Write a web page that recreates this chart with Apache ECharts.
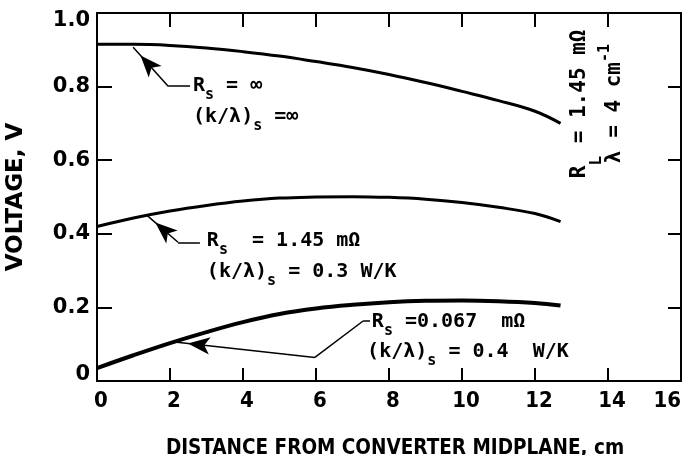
<!DOCTYPE html>
<html>
<head>
<meta charset="utf-8">
<title>Voltage vs distance from converter midplane</title>
<script src="https://cdn.jsdelivr.net/npm/echarts@6/dist/echarts.min.js"></script>
</head>
<body style="margin:0;background:#fff">
<div id="main" style="width:687px;height:455px;"></div>
<script type="text/javascript">
// distance from converter midplane, cm
var dist = [0, 1, 2, 3, 4, 5, 6, 7, 8, 9, 10, 11, 12, 12.7];
// voltage, V
var vInf = [0.915, 0.915, 0.912, 0.905, 0.895, 0.883, 0.868, 0.852, 0.833, 0.811, 0.787, 0.762, 0.733, 0.700];
var v145 = [0.420, 0.443, 0.462, 0.477, 0.489, 0.497, 0.500, 0.501, 0.499, 0.494, 0.485, 0.472, 0.455, 0.433];
var v067 = [0.035, 0.070, 0.103, 0.133, 0.160, 0.182, 0.197, 0.207, 0.214, 0.218, 0.219, 0.217, 0.212, 0.205];
var yTickLabels = ['0', '0.2', '0.4', '0.6', '0.8', '1.0'];

// leader lines (tip on the curve first), in data units
var arrowInf = [[0.99, 0.907], [1.95, 0.801], [2.55, 0.801]];
var arrow145 = [[1.37, 0.450], [2.22, 0.377], [2.82, 0.377]];
var arrow067 = [[2.19, 0.105], [5.97, 0.064], [7.29, 0.163], [7.48, 0.163]];
// label anchors (left end, middle), in data units
var labelInf = [[2.63, 0.801], [2.63, 0.717]];
var label145 = [[3.01, 0.380], [3.01, 0.296]];
var label067 = [[7.53, 0.160], [7.40, 0.078]];
var noteAnchors = [[13.23, 0.551], [14.19, 0.592]];

var mono = "'DejaVu Sans Mono', 'Liberation Mono', monospace";
var sans = "'DejaVu Sans', sans-serif";
var cond = "'DejaVu Sans Condensed', 'Liberation Sans Narrow', sans-serif";

function pairs(xs, ys) { return xs.map(function (x, i) { return [x, ys[i]]; }); }

function leader(pts) {
  var d = [];
  for (var i = 0; i < pts.length - 1; i++) {
    var a = {coord: pts[i], symbol: 'none'};
    if (i === 0) { a.symbol = 'arrow'; a.symbolSize = [13, 22]; a.symbolOffset = [0, '50%']; }
    d.push([a, {coord: pts[i + 1], symbol: 'none'}]);
  }
  return {
    silent: true, symbol: 'none', animation: false,
    label: {show: false},
    itemStyle: {color: '#000'},
    lineStyle: {color: '#000', width: 1.5, type: 'solid'},
    emphasis: {disabled: true},
    data: d
  };
}

function curve(ys, w, pts) {
  return {
    type: 'line', data: pairs(dist, ys), smooth: 0.4, symbol: 'none',
    color: '#000', lineStyle: {color: '#000', width: w},
    markLine: leader(pts)
  };
}

function frameAxis(extra, tickLen) {
  return Object.assign({
    type: 'value', min: 0,
    axisLine: {show: true, onZero: false, lineStyle: {color: '#000', width: 2}},
    axisTick: {show: true, inside: true, length: tickLen, lineStyle: {color: '#000', width: 2}},
    splitLine: {show: false}
  }, extra);
}

var yLab = {fontFamily: sans, fontWeight: 'bold', fontSize: 21, color: '#000'};
var myChart = echarts.init(document.getElementById('main'));
option = {
  animation: false,
  backgroundColor: '#fff',
  grid: {left: 97, right: 6, top: 13, bottom: 74, containLabel: false, outerBoundsMode: 'none'},
  xAxis: [
    frameAxis({
      position: 'bottom', max: 16, interval: 2,
      axisLabel: {color: '#000', fontFamily: cond, fontWeight: 'bold', fontSize: 22, margin: 9,
        padding: [0, 0, 0, 8], alignMaxLabel: 'right'},
      name: 'DISTANCE FROM CONVERTER MIDPLANE, cm', nameLocation: 'middle', nameGap: 57,
      nameTextStyle: {color: '#000', fontFamily: cond, fontWeight: 'bold', fontSize: 20.5, padding: [0, 0, 0, 12]}
    }, 13),
    frameAxis({position: 'top', max: 16, interval: 2, axisLabel: {show: false}}, 14)
  ],
  yAxis: [
    frameAxis({
      position: 'left', max: 1, interval: 0.2,
      axisLabel: {color: '#000', fontFamily: sans, fontWeight: 'bold', fontSize: 21, margin: 7,
        formatter: function (v) {
          var i = Math.round(v / 0.2);
          if (i === 5) return '{hi|' + yTickLabels[i] + '}';
          if (i === 0) return '{lo|' + yTickLabels[i] + '}';
          return yTickLabels[i];
        },
        rich: {
          hi: Object.assign({lineHeight: 36, verticalAlign: 'bottom'}, yLab),
          lo: Object.assign({lineHeight: 34, verticalAlign: 'top'}, yLab)
        }},
      name: 'VOLTAGE, V', nameLocation: 'middle', nameGap: 69, nameRotate: 90,
      nameTextStyle: {color: '#000', fontFamily: sans, fontWeight: 'bold', fontSize: 23}
    }, 15),
    frameAxis({position: 'right', max: 1, interval: 0.2, axisLabel: {show: false}}, 13)
  ],
  series: [
    curve(vInf, 3, arrowInf),
    curve(v145, 3, arrow145),
    curve(v067, 4, arrow067)
  ]
};
myChart.setOption(option);

var rich = {
  s: {fontFamily: mono, fontWeight: 'bold', fontSize: 15, lineHeight: 15, verticalAlign: 'bottom', fill: '#000'},
  L: {fontFamily: mono, fontWeight: 'bold', fontSize: 16, lineHeight: 16, verticalAlign: 'bottom', fill: '#000'},
  p: {fontFamily: mono, fontWeight: 'bold', fontSize: 15, lineHeight: 15, verticalAlign: 'top', fill: '#000'}
};
function txt(anchor, text, size, lh, rot) {
  var p = myChart.convertToPixel({gridIndex: 0}, anchor);
  return {
    type: 'text', x: p[0], y: p[1], rotation: rot || 0, silent: true,
    style: {text: text, fontFamily: mono, fontWeight: 'bold', fontSize: size, lineHeight: lh, fill: '#000',
      align: 'left', verticalAlign: 'middle', rich: rich}
  };
}
myChart.setOption({
  graphic: [
    txt(labelInf[0], 'R{s|s} = ∞', 20, 33),
    txt(labelInf[1], '(k/λ){s|s} =∞', 20, 33),
    txt(label145[0], 'R{s|s}  = 1.45 mΩ', 20, 33),
    txt(label145[1], '(k/λ){s|s} = 0.3 W/K', 20, 33),
    txt(label067[0], 'R{s|s} =0.067  mΩ', 20, 33),
    txt(label067[1], '(k/λ){s|s} = 0.4  W/K', 20, 33),
    txt(noteAnchors[0], 'R{L|L} = 1.45 mΩ', 21, 50, Math.PI / 2),
    txt(noteAnchors[1], 'λ = 4 cm{p|-1}', 21, 35, Math.PI / 2)
  ]
});
</script>
</body>
</html>
